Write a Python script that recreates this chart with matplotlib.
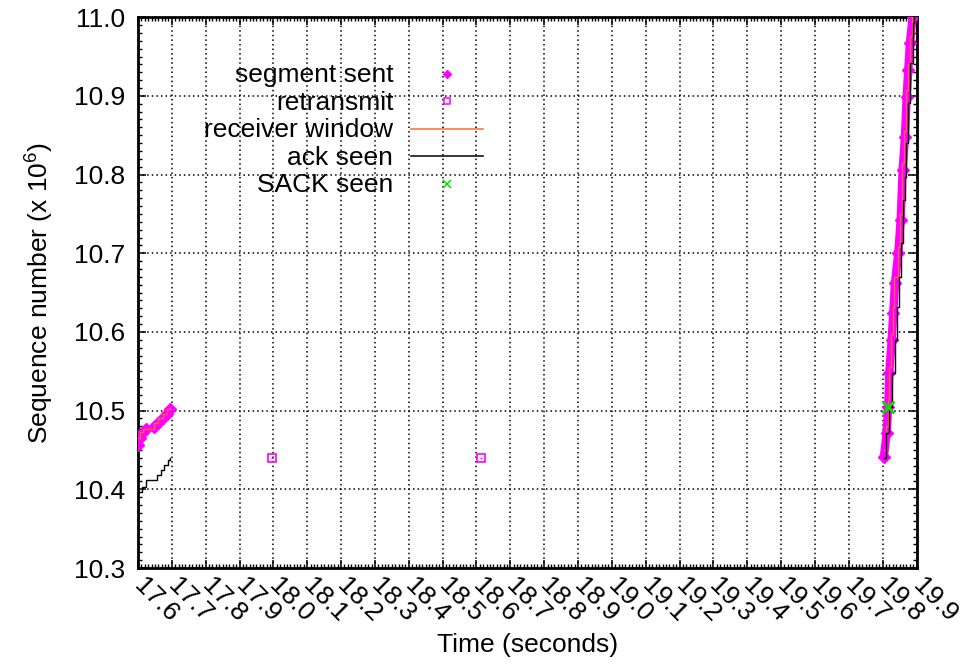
import matplotlib
matplotlib.use("Agg")
import matplotlib.pyplot as plt
from matplotlib.lines import Line2D
from matplotlib.ticker import MultipleLocator

plt.rcParams['font.family'] = ['Liberation Sans', 'DejaVu Sans']
plt.rcParams['mathtext.fontset'] = 'custom'
plt.rcParams['mathtext.rm'] = 'Liberation Sans'

# --- data (time in seconds, sequence number in millions) ---
# segments sent, first burst (two runs separated by a short pause)
seg1a_t = [17.6005, 17.6064, 17.6161, 17.6232]
seg1a_s = [10.4564, 10.4649, 10.4733, 10.4764]
seg1b_t = [17.6477, 17.6604, 17.6752, 17.6852, 17.6950]
seg1b_s = [10.4797, 10.4848, 10.4903, 10.4958, 10.5018]
# segments sent, second burst
seg2_t = [19.8038, 19.8118, 19.8165, 19.8195, 19.8266, 19.8313, 19.8363,
          19.8461, 19.8532, 19.8591, 19.8659, 19.8709, 19.8756, 19.8806, 19.8886]
seg2_s = [10.4416, 10.4713, 10.5051, 10.5475, 10.5898, 10.6238, 10.6619,
          10.7000, 10.7423, 10.8059, 10.8482, 10.8990, 10.9329, 10.9673, 11.0006]

# retransmitted segments
retx_t = [17.996, 18.614]
retx_s = [10.4398, 10.4398]

# receiver window
win1_t = [17.6005, 17.6064, 17.6161, 17.6232, 17.6477, 17.6604, 17.6752, 17.6852, 17.6950]
win1_s = [10.4649, 10.4733, 10.4764, 10.4766, 10.4848, 10.4903, 10.4958, 10.5018, 10.5030]
win2_t = [19.8030, 19.8100, 19.8150, 19.8185, 19.8255, 19.8300, 19.8350, 19.8445,
          19.8520, 19.8580, 19.8645, 19.8700, 19.8745, 19.8795, 19.8870]
win2_s = [10.4500, 10.4800, 10.5150, 10.5550, 10.5980, 10.6320, 10.6700, 10.7080,
          10.7500, 10.8150, 10.8560, 10.9070, 10.9400, 10.9760, 11.0100]

# acks seen
ack1_t = [17.6005, 17.6014, 17.6114, 17.6241, 17.6557, 17.6675, 17.6773, 17.6882, 17.6950]
ack1_s = [10.3887, 10.3971, 10.4027, 10.4119, 10.4183, 10.4246, 10.4310, 10.4374, 10.4395]
ack2_t = [19.8030, 19.8110, 19.8200, 19.8290, 19.8365, 19.8410, 19.8475, 19.8550,
          19.8605, 19.8650, 19.8700, 19.8755, 19.8815, 19.8895, 19.8925]
ack2_s = [10.4400, 10.4713, 10.5051, 10.5475, 10.5898, 10.6321, 10.6703, 10.7127,
          10.7677, 10.7973, 10.8398, 10.8906, 10.9414, 10.9923, 11.0092]

# SACK seen
sack_t = [19.817]
sack_s = [10.5046]

xticks = [17.6, 17.7, 17.8, 17.9, 18.0, 18.1, 18.2, 18.3, 18.4, 18.5, 18.6, 18.7,
          18.8, 18.9, 19.0, 19.1, 19.2, 19.3, 19.4, 19.5, 19.6, 19.7, 19.8, 19.9]
yticks = [10.3, 10.4, 10.5, 10.6, 10.7, 10.8, 10.9, 11.0]

SEG_C = '#ff00ff'
WIN_C = '#ff6a30'
ACK_C = '#000000'
SACK_C = '#00e000'

W, H = 964, 665
fig = plt.figure(figsize=(W / 100, H / 100), dpi=100)
L, R, T, B = 138, 916.5, 17.2, 568
ax = fig.add_axes([L / W, (H - B) / H, (R - L) / W, (B - T) / H])

# segments: thick magenta band with diamond markers
for tt, ss in [(seg1a_t, seg1a_s), (seg1b_t, seg1b_s), (seg2_t, seg2_s)]:
    ax.plot(tt, ss, color=SEG_C, lw=6.0, solid_capstyle='round', zorder=3)
    ax.plot(tt, ss, ls='none', marker='D', ms=6.0, color=SEG_C, zorder=3)

# retransmits: open square with a tiny centre mark
ax.plot(retx_t, retx_s, ls='none', marker='s', ms=6, mfc='none', mec=SEG_C, mew=1.2, zorder=4)
ax.plot(retx_t, retx_s, ls='none', marker='_', ms=2, mec=SEG_C, mew=1, zorder=4)

# receiver window
for tt, ss in [(win1_t, win1_s), (win2_t, win2_s)]:
    ax.plot(tt, ss, color=WIN_C, lw=1.0, drawstyle='steps-post', zorder=4)

# acks
for tt, ss in [(ack1_t, ack1_s), (ack2_t, ack2_s)]:
    ax.plot(tt, ss, color=ACK_C, lw=1.0, drawstyle='steps-post', zorder=5)

# SACK
ax.plot(sack_t, sack_s, ls='none', marker='x', ms=8, mew=2, color=SACK_C, zorder=6)

ax.set_xlim(17.6, 19.9)
ax.set_ylim(10.3, 11.0)

ax.set_yticks(yticks)
ax.set_yticklabels([f'{v:.1f}' for v in yticks], fontsize=19)
ax.set_xticks(xticks)
ax.set_xticklabels([f'{v:.1f}' for v in xticks], fontsize=19)
ax.xaxis.set_minor_locator(MultipleLocator(0.01))
ax.yaxis.set_minor_locator(MultipleLocator(0.01))

ax.tick_params(which='both', direction='in', top=True, right=True, color='black')
ax.tick_params(which='major', length=6, width=1.1)
ax.tick_params(which='minor', length=3, width=1.0)
ax.tick_params(axis='x', which='major', pad=10)
ax.tick_params(axis='y', which='major', pad=9)

for lab in ax.get_xticklabels():
    lab.set_rotation(-45)
    lab.set_rotation_mode('anchor')
    lab.set_ha('left')
    lab.set_va('center')

for sp in ax.spines.values():
    sp.set_linewidth(2.0)
    sp.set_color('black')

ax.grid(True, which='major', color='black', lw=1.1, ls=(0, (1, 2)))
ax.set_axisbelow(True)

ax.set_xlabel('Time (seconds)', fontsize=19)
ax.xaxis.set_label_coords(0.5, -(645 - B) / (B - T))
ax.xaxis.label.set_va('center')
ax.set_ylabel(r'Sequence number (x $\mathregular{10^{6}}$)', fontsize=19)
ax.yaxis.set_label_coords((40 - L) / (R - L), 0.5)
ax.yaxis.label.set_va('center')


# key in the upper left of the plot area
def ax_xy(px, py):
    return (px - L) / (R - L), (B - py) / (B - T)


key_rows = ['segment sent', 'retransmit', 'receiver window', 'ack seen', 'SACK seen']
for i, label in enumerate(key_rows):
    base_y = 82.3 + i * 27.5
    mark_y = base_y - 8.5
    tx, ty = ax_xy(393.3, base_y)
    ax.text(tx, ty, label, transform=ax.transAxes, ha='right', va='baseline', fontsize=19, zorder=7)
    mx, my = ax_xy(446.7, mark_y)
    x0, _ = ax_xy(410.7, mark_y)
    x1, _ = ax_xy(482.7, mark_y)
    if label == 'segment sent':
        ax.add_line(Line2D([mx], [my], transform=ax.transAxes, ls='none', marker='D', ms=4.5, color=SEG_C, zorder=7))
    elif label == 'retransmit':
        ax.add_line(Line2D([mx], [my], transform=ax.transAxes, ls='none', marker='s', ms=5, mfc='none', mec=SEG_C, mew=1.1, zorder=7))
    elif label == 'receiver window':
        ax.add_line(Line2D([x0, x1], [my, my], transform=ax.transAxes, color=WIN_C, lw=1.1, zorder=7))
    elif label == 'ack seen':
        ax.add_line(Line2D([x0, x1], [my, my], transform=ax.transAxes, color=ACK_C, lw=1.1, zorder=7))
    else:
        ax.add_line(Line2D([mx], [my], transform=ax.transAxes, ls='none', marker='x', ms=6, mew=1.1, color=SACK_C, zorder=7))

fig.savefig('out.png', dpi=100)
